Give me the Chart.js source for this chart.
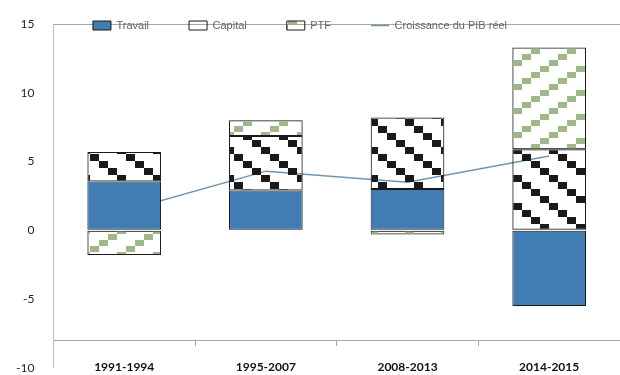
<!DOCTYPE html>
<html>
<head>
<meta charset="utf-8">
<script src="https://cdn.jsdelivr.net/npm/chart.js@4"></script>
<style>
    html, body { margin: 0; padding: 0; background: #fff; }
    #wrap { width: 620px; height: 375px; }
</style>
</head>
<body>
<div id="wrap"><canvas id="pibChart"></canvas></div>
<script>
const periods = ["1991-1994", "1995-2007", "2008-2013", "2014-2015"];
const travail = [3.55, 2.9, 3.0, -5.5];
const capital = [2.15, 3.95, 5.2, 5.9];
const ptf = [-1.8, 1.15, -0.3, 7.4];
const croissance = [1.4, 4.3, 3.5, 5.4];
const yTicks = [-10, -5, 0, 5, 10, 15];

// small tiles of squares in diagonal rows, like the Excel hatch fills
// (left transparent so the growth line shows through the white parts)
function hatch(w, h, color, squares, sw, sh) {
    const c = document.createElement("canvas");
    c.width = w;
    c.height = h;
    const g = c.getContext("2d");
    g.fillStyle = color;
    squares.forEach(([x, y]) => {
        for (const dx of [-w, 0, w]) {
            for (const dy of [-h, 0, h]) {
                g.fillRect(x + dx, y + dy, sw, sh);
            }
        }
    });
    return g.createPattern(c, "repeat");
}

const capitalFill = hatch(36, 28, "#1a1a1a", [[0, 0], [9, 7], [18, 14], [27, 21]], 9, 7);
const ptfFill = hatch(36, 24, "#9fb887", [[0, 18], [9, 12], [18, 6], [27, 0]], 9, 6);

// the legend sits on the top border line, as in the original
const legendShift = {
    id: "legendShift",
    afterLayout(chart) {
        const l = chart.legend;
        l.top += 17;
        l.bottom += 17;
        l.left -= 18;
        l.right -= 18;
    }
};

const barStyle = {
    type: "bar",
    borderColor: "#1a1a1a",
    borderWidth: 1,
    borderSkipped: false,
    pointStyle: "rect",
    barPercentage: 0.52,
    categoryPercentage: 1,
    order: 1
};

new Chart(document.getElementById("pibChart"), {
    data: {
        labels: periods,
        datasets: [
            {...barStyle, label: "Travail", data: travail, backgroundColor: "#417db3"},
            {...barStyle, label: "Capital", data: capital, backgroundColor: capitalFill},
            {...barStyle, label: "PTF", data: ptf, backgroundColor: ptfFill},
            {
                type: "line",
                label: "Croissance du PIB réel",
                data: croissance,
                borderColor: "#7393ad",
                borderWidth: 1.5,
                pointRadius: 0,
                pointStyle: "line",
                tension: 0,
                fill: false,
                order: 2
            }
        ]
    },
    options: {
        responsive: true,
        maintainAspectRatio: false,
        animation: false,
        layout: {padding: {top: -37, left: 16, right: 0, bottom: 0}},
        font: {family: "Lato, 'Open Sans', sans-serif"},
        scales: {
            x: {
                stacked: true,
                position: {y: -8},
                grid: {offset: true, drawOnChartArea: false, tickLength: 5, color: "#a6a6a6"},
                border: {color: "#a6a6a6"},
                ticks: {padding: 15, color: "#111", font: {size: 12, weight: "bold"}}
            },
            y: {
                stacked: true,
                min: yTicks[0],
                max: yTicks[yTicks.length - 1],
                ticks: {stepSize: yTicks[1] - yTicks[0], padding: 0, color: "#262626", font: {size: 12}},
                border: {color: "#bfbfbf"},
                grid: {
                    color: (c) => (c.tick && c.tick.value === yTicks[yTicks.length - 1]) ? "#a6a6a6" : "rgba(0,0,0,0)",
                    tickColor: "rgba(0,0,0,0)",
                    tickLength: 19
                }
            }
        },
        plugins: {
            tooltip: {enabled: false},
            legend: {
                position: "top",
                labels: {
                    usePointStyle: true,
                    pointStyleWidth: 18,
                    boxHeight: 9,
                    padding: 40,
                    color: "#666",
                    font: {size: 11},
                    sort: (a, b) => a.datasetIndex - b.datasetIndex
                }
            }
        }
    },
    plugins: [legendShift]
});
</script>
</body>
</html>
